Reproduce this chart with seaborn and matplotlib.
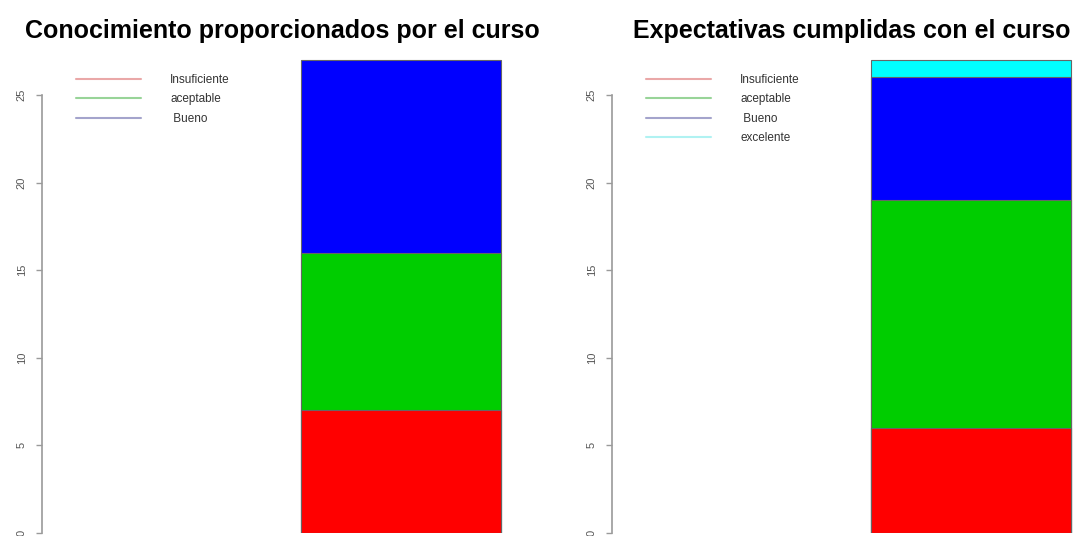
import matplotlib
matplotlib.use("Agg")
import matplotlib.pyplot as plt
import seaborn as sns
import pandas as pd
from matplotlib.lines import Line2D

# ---- data ----
cats_left = ["Insuficiente", "aceptable", " Bueno"]
vals_left = [7, 9, 11]
cats_right = ["Insuficiente", "aceptable", " Bueno", "excelente"]
vals_right = [6, 13, 7, 1]
title_left = "Conocimiento proporcionados por el curso"
title_right = "Expectativas cumplidas con el curso"
yticks = [0, 5, 10, 15, 20, 25]

bar_colors = ["#FF0000", "#00CD00", "#0000FF", "#00FFFF"]
legend_colors = ["#eaa8a8", "#98d498", "#a4a4cc", "#b0f2f2"]

sns.set_style("white")
plt.rcParams["font.family"] = ["Liberation Sans", "DejaVu Sans"]

W, H = 1077, 536
fig = plt.figure(figsize=(W / 100, H / 100), dpi=100)

px_per_unit = 17.52
y0_px = 533
ymax = 28
ax_h = ymax * px_per_unit
ax_w = 488
top_px = y0_px - ax_h


def panel(left_px, cats, vals, title):
    ax = fig.add_axes([left_px / W, (H - y0_px) / H, ax_w / W, ax_h / H])
    ax.patch.set_alpha(0)
    cum = pd.Series(vals).cumsum().tolist()
    # draw cumulative bars from the tallest down so they stack visually
    for i in range(len(vals) - 1, -1, -1):
        df = pd.DataFrame({"g": ["a"], "v": [cum[i]]})
        sns.barplot(data=df, x="g", y="v", ax=ax, color=bar_colors[i],
                    width=1.0, edgecolor="#666666", linewidth=0.8,
                    saturation=1, errorbar=None)
    ax.set_xlim(-1.795, 0.645)
    ax.set_ylim(0, ymax)
    ax.set_xlabel("")
    ax.set_ylabel("")
    ax.set_xticks([])
    ax.set_yticks(yticks)
    ax.set_yticklabels([str(t) for t in yticks], rotation=90, va="center",
                       fontsize=8, color="#555555")
    for s in ["top", "right", "bottom"]:
        ax.spines[s].set_visible(False)
    ax.spines["left"].set_bounds(0, 25)
    ax.spines["left"].set_color("#9a9a9a")
    ax.spines["left"].set_linewidth(1.2)
    ax.tick_params(axis="y", left=True, length=4.5, width=1, color="#9a9a9a", pad=6.5)
    ax.text(0.5 - 4 / ax_w, 1 + (top_px - 31) / ax_h, title, transform=ax.transAxes,
            ha="center", va="center", fontsize=18, fontweight="bold", color="black")
    handles = [Line2D([0], [0], color=legend_colors[i], lw=1.5) for i in range(len(cats))]
    ax.legend(handles, cats, loc="upper left",
              bbox_to_anchor=(29 / ax_w, 1 - (69 - top_px) / ax_h),
              frameon=False, fontsize=8.5, handlelength=5.5, handletextpad=2.5,
              labelspacing=0.64, borderaxespad=0, labelcolor="#333333")
    return ax


axL = panel(42, cats_left, vals_left, title_left)
axR = panel(612, cats_right, vals_right, title_right)
fig.savefig("out.png", dpi=100)
